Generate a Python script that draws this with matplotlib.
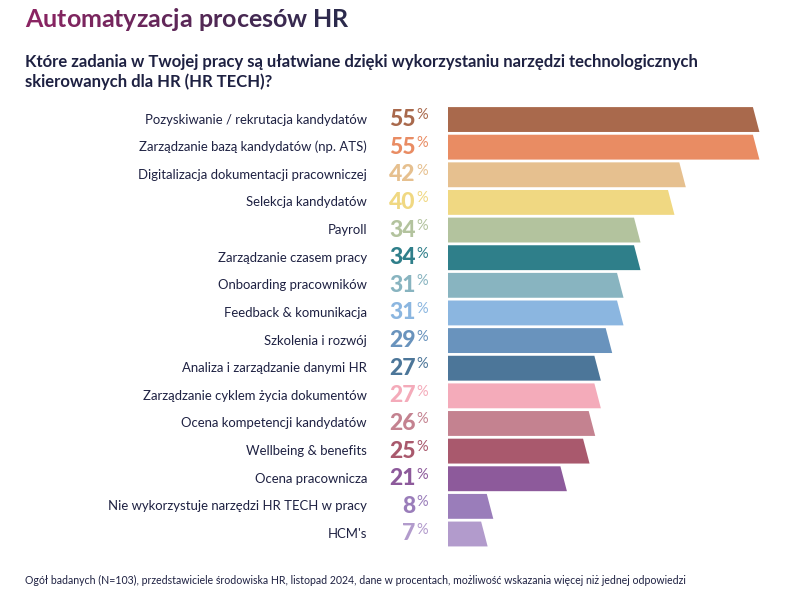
import matplotlib.pyplot as plt
import numpy as np
from matplotlib.patches import Polygon
from matplotlib.colors import to_rgb

plt.rcParams['font.family'] = ['Lato', 'DejaVu Sans']

# data
categories = [
    "Pozyskiwanie / rekrutacja kandydatów",
    "Zarządzanie bazą kandydatów (np. ATS)",
    "Digitalizacja dokumentacji pracowniczej",
    "Selekcja kandydatów",
    "Payroll",
    "Zarządzanie czasem pracy",
    "Onboarding pracowników",
    "Feedback & komunikacja",
    "Szkolenia i rozwój",
    "Analiza i zarządzanie danymi HR",
    "Zarządzanie cyklem życia dokumentów",
    "Ocena kompetencji kandydatów",
    "Wellbeing & benefits",
    "Ocena pracownicza",
    "Nie wykorzystuje narzędzi HR TECH w pracy",
    "HCM's",
]
values = [55, 55, 42, 40, 34, 34, 31, 31, 29, 27, 27, 26, 25, 21, 8, 7]
colors = [
    "#a9694c", "#e98c63", "#e6c08f", "#f0d882", "#b3c39e", "#2f7f8a",
    "#88b4c0", "#8bb6e0", "#6993bd", "#4c7699", "#f4abba", "#c48290",
    "#a9596d", "#8d5a9b", "#9a7dba", "#b29bcc",
]

title = "Automatyzacja procesów HR"
subtitle = ("Które zadania w Twojej pracy są ułatwiane dzięki wykorzystaniu narzędzi technologicznych\n"
            "skierowanych dla HR (HR TECH)?")
footnote = ("Ogół badanych (N=103), przedstawiciele środowiska HR, listopad 2024, dane w procentach, "
            "możliwość wskazania więcej niż jednej odpowiedzi")

navy = "#1e2142"

fig = plt.figure(figsize=(8, 6.02), dpi=100)
ax = fig.add_axes([0.56, 0.090, 0.4275, 0.7344])
ax.set_xlim(0, 60.4)
ax.set_ylim(len(values) - 0.5, -0.5)
ax.axis('off')

# bars with slanted right end
h = 0.9
slant = 1.15
for i, (v, c) in enumerate(zip(values, colors)):
    pts = [(0, i - h / 2), (v - slant, i - h / 2), (v, i + h / 2), (0, i + h / 2)]
    ax.add_patch(Polygon(pts, closed=True, facecolor=c, edgecolor='none'))

tr = ax.get_yaxis_transform()
for i, (cat, v, c) in enumerate(zip(categories, values, colors)):
    ax.text(-0.237, i, cat, transform=tr, ha='right', va='center',
            fontsize=9.45, color=navy)
    ax.text(-0.095, i + 0.235, str(v), transform=tr, ha='right', va='baseline',
            fontsize=16.5, fontweight='black', color=c)
    ax.text(-0.093, i - 0.40, "%", transform=tr, ha='left', va='top',
            fontsize=10.5, color=c)

# title with a left-to-right colour gradient, one letter at a time
c0 = np.array(to_rgb("#8a2462"))
c1 = np.array(to_rgb("#2b2a4c"))
n = len(title)
last = fig.text(25 / 800, 1 - 27 / 602, title[0], fontsize=18, fontweight='bold',
                color=c0, ha='left', va='baseline')
for k in range(1, n):
    col = c0 + (c1 - c0) * k / (n - 1)
    last = fig.add_artist(plt.Annotation(title[k], xy=(1, 0), xycoords=last,
                                         ha='left', va='bottom', fontsize=18,
                                         fontweight='bold', color=col))

fig.text(25 / 800, 1 - 72 / 602, subtitle, fontsize=12, fontweight='bold',
         color=navy, ha='left', va='center', linespacing=1.2)
fig.text(25 / 800, 1 - 580 / 602, footnote, fontsize=7.6, color=navy,
         ha='left', va='center')

fig.savefig("out.png", dpi=100)
